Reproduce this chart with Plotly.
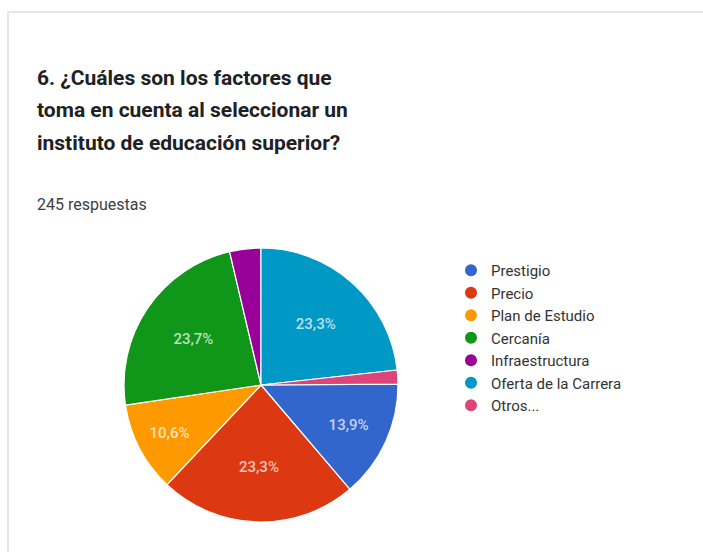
import plotly.graph_objects as go

# Survey answers (245 responses)
labels = ["Prestigio", "Precio", "Plan de Estudio", "Cercanía",
          "Infraestructura", "Oferta de la Carrera", "Otros..."]
counts = [34, 57, 26, 58, 9, 57, 4]
colors = ["#3366CC", "#DC3912", "#FF9900", "#109618",
          "#990099", "#0099C6", "#DD4477"]
# only the larger slices carry a percentage label
show_label = [True, True, True, True, False, True, False]

title_lines = ["6. ¿Cuáles son los factores que",
               "toma en cuenta al seleccionar un",
               "instituto de educación superior?"]
subtitle = "245 respuestas"

W, H = 703, 552

def px_x(v):
    return v / W

def px_y(v):
    return 1 - v / H

fig = go.Figure()

fig.add_trace(go.Pie(
    labels=labels,
    values=counts,
    sort=False,
    direction="clockwise",
    rotation=89.6,
    marker=dict(colors=colors, line=dict(color="white", width=1.2)),
    texttemplate=["%{percent:.1%}" if s else "" for s in show_label],
    textposition="inside",
    insidetextorientation="horizontal",
    insidetextfont=dict(family="Roboto", size=15, color="rgba(255,255,255,0.72)",
                        weight=500),
    hoverinfo="label+value+percent",
    showlegend=False,
    domain=dict(x=[px_x(124), px_x(398)], y=[px_y(522), px_y(248)]),
))

# round legend markers
for name, col in zip(labels, colors):
    fig.add_trace(go.Scatter(
        x=[None], y=[None], mode="markers", name=name,
        marker=dict(symbol="circle", size=14, color=col),
        hoverinfo="skip",
    ))

annotations = []
for i, line in enumerate(title_lines):
    annotations.append(dict(
        text=line, xref="paper", yref="paper",
        x=px_x(35), y=px_y(78 + 32.5 * i),
        xanchor="left", yanchor="middle", showarrow=False,
        font=dict(family="Roboto", size=21, color="#202124", weight="bold"),
    ))
annotations.append(dict(
    text=subtitle, xref="paper", yref="paper",
    x=px_x(35), y=px_y(204), xanchor="left", yanchor="middle",
    showarrow=False, font=dict(family="Roboto", size=16, color="#3c4043"),
))

fig.update_layout(
    width=W, height=H,
    margin=dict(l=0, r=0, t=0, b=0),
    paper_bgcolor="white", plot_bgcolor="white",
    separators=",.",
    xaxis=dict(visible=False), yaxis=dict(visible=False),
    legend=dict(
        x=px_x(451), y=px_y(254), xanchor="left", yanchor="top",
        font=dict(family="Roboto", size=15, color="#333333"),
        itemsizing="constant", bgcolor="rgba(0,0,0,0)",
    ),
    annotations=annotations,
    shapes=[dict(
        type="rect", xref="paper", yref="paper",
        x0=px_x(8), x1=px_x(720), y0=px_y(570), y1=px_y(12),
        line=dict(color="#e6e6e6", width=2), layer="below",
    )],
)

fig.write_html("out.html")
